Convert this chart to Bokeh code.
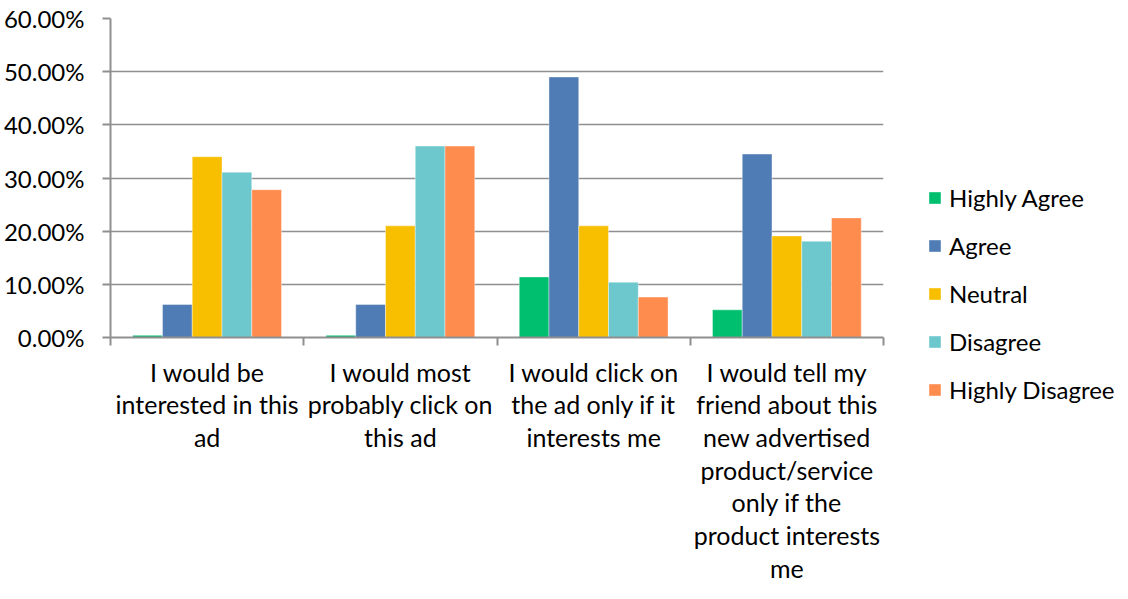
from bokeh.plotting import figure
from bokeh.models import (ColumnDataSource, FactorRange, Range1d, LinearAxis, CategoricalAxis,
                          FixedTicker, NumeralTickFormatter, Legend, LegendItem)
from bokeh.transform import dodge
from bokeh.embed import file_html
from bokeh.resources import INLINE

categories = [
    "I would be\ninterested in this\nad",
    "I would most\nprobably click on\nthis ad",
    "I would click on\nthe ad only if it\ninterests me",
    "I would tell my\nfriend about this\nnew advertised\nproduct/service\nonly if the\nproduct interests\nme",
]
series = ["Highly Agree", "Agree", "Neutral", "Disagree", "Highly Disagree"]
highly_agree = [0.004, 0.004, 0.114, 0.052]
agree = [0.062, 0.062, 0.490, 0.345]
neutral = [0.340, 0.210, 0.210, 0.191]
disagree = [0.311, 0.360, 0.104, 0.181]
highly_disagree = [0.278, 0.360, 0.076, 0.225]
y_ticks = [0.0, 0.1, 0.2, 0.3, 0.4, 0.5, 0.6]

colors = ["#00BF6F", "#4F7CB4", "#F8BE00", "#6CC8CC", "#FF8C4F"]
values = [highly_agree, agree, neutral, disagree, highly_disagree]

FONT = "Lato"
FS = "25px"
GRID = "#8f8f8f"

source = ColumnDataSource(data=dict(cat=categories, **{s: v for s, v in zip(series, values)}))

p = figure(frame_width=773, frame_height=319,
           x_range=FactorRange(*categories, range_padding=0), y_range=Range1d(0, 0.6),
           output_backend="svg", toolbar_location=None, x_axis_location=None,
           min_border_left=110, min_border_right=0, min_border_top=18, min_border_bottom=0)
p.outline_line_color = None
p.xgrid.visible = False

bw = 0.154
n = len(series)
renderers = []
for i, (s, c) in enumerate(zip(series, colors)):
    off = (i - (n - 1) / 2) * bw
    r = p.vbar(x=dodge("cat", off, range=p.x_range), top=s, width=bw, source=source,
               fill_color=c, line_color="white", line_alpha=0.4, line_width=1)
    renderers.append((s, r))

# y axis
yax = p.yaxis[0]
yax.ticker = FixedTicker(ticks=y_ticks)
yax.formatter = NumeralTickFormatter(format="0.00%")
yax.axis_line_color = GRID
yax.axis_line_width = 2
yax.major_tick_line_color = GRID
yax.major_tick_line_width = 2
yax.major_tick_out = 8
yax.major_tick_in = 0
yax.minor_tick_line_color = None
yax.major_label_text_font = FONT
yax.major_label_text_font_size = "24px"
yax.major_label_text_color = "black"
yax.major_label_standoff = 18

p.ygrid.ticker = FixedTicker(ticks=y_ticks)
p.ygrid.grid_line_color = GRID
p.ygrid.grid_line_width = 1.5

# category boundary ticks (synthetic coordinates of category edges)
edges = list(range(len(categories) + 1))
bax = LinearAxis(ticker=FixedTicker(ticks=edges))
bax.major_label_overrides = {e: "" for e in edges}
bax.major_label_text_font_size = "1px"
bax.major_label_standoff = 0
bax.axis_line_color = GRID
bax.axis_line_width = 2
bax.major_tick_line_color = GRID
bax.major_tick_line_width = 2
bax.major_tick_out = 8
bax.major_tick_in = 0
bax.minor_tick_line_color = None
p.add_layout(bax, "below")

cax = CategoricalAxis()
cax.axis_line_color = None
cax.major_tick_line_color = None
cax.major_tick_out = 0
cax.major_tick_in = 0
cax.major_label_text_font = FONT
cax.major_label_text_font_size = FS
cax.major_label_text_color = "black"
cax.major_label_text_line_height = 1.09
cax.major_label_standoff = 11
p.add_layout(cax, "below")

legend = Legend(items=[LegendItem(label=s, renderers=[r]) for s, r in renderers],
                location=(44, -67), orientation="vertical")
legend.label_text_font = FONT
legend.label_text_font_size = "24px"
legend.label_text_color = "black"
legend.glyph_width = 15
legend.glyph_height = 15
legend.label_standoff = 7
legend.label_height = 26
legend.spacing = 19
legend.padding = 0
legend.margin = 0
legend.border_line_color = None
legend.background_fill_alpha = 0
p.add_layout(legend, "right")

open("out.html", "w").write(file_html(p, INLINE))
